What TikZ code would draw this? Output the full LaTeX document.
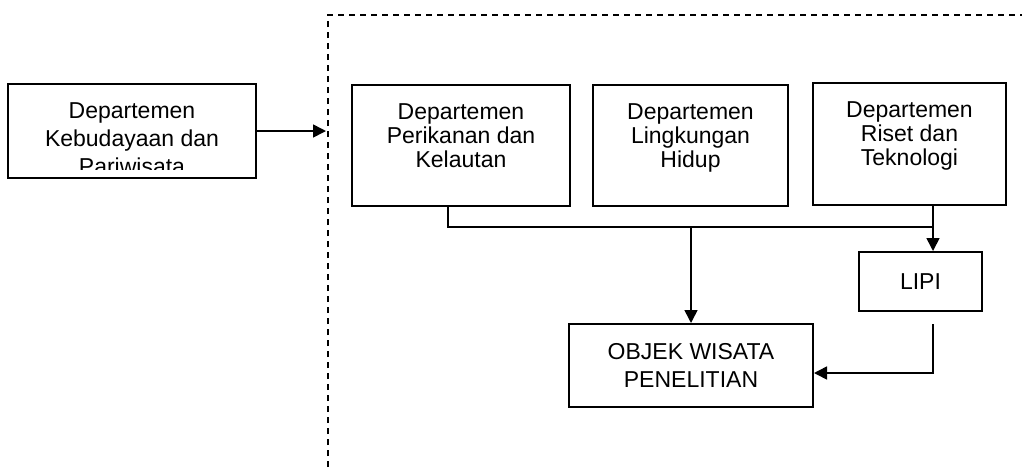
\documentclass[tikz,border=0pt]{standalone}
\usepackage{fontspec}
\setmainfont{Liberation Sans}
\usepackage{tikz}
\usetikzlibrary{arrows.meta, positioning, calc}

\begin{document}
\begin{tikzpicture}[x=0.5pt, y=-0.5pt,
    kotak/.style={draw, line width=1pt, inner sep=0pt},
    teks/.style={align=center, inner sep=0pt, font=\fontsize{11.5}{12}\selectfont},
    garis/.style={line width=0.8pt},
    panah/.style={garis, -{Triangle[length=6.5pt, width=6.5pt]}}]
  \useasboundingbox (0,0) rectangle (1022,467);
  % batas wilayah
  \coordinate (batas) at (328,15);
  \draw[line width=1pt, dash pattern=on 3pt off 2.5pt] (328,467) -- (batas) -- (1022,15);
  % kotak departemen
  \node[kotak, minimum width=124pt, minimum height=47pt] (kebudayaan) at (132,131) {};
  \node[kotak, minimum width=109pt, minimum height=60.5pt] (perikanan) at (461,145.5) {};
  \node[kotak, minimum width=97.5pt, minimum height=60.5pt] (lingkungan) at (690.5,145.5) {};
  \node[kotak, minimum width=96.5pt, minimum height=61pt] (riset) at (909.5,144) {};
  \node[kotak, teks, minimum width=61.5pt, minimum height=29.5pt] (lipi) at (920.5,281.5) {LIPI};
  \node[kotak, teks, minimum width=122pt, minimum height=41.5pt,
    font=\fontsize{11.5}{14}\selectfont] (objek) at (691,365.5) {OBJEK WISATA\\PENELITIAN};
  % isi kotak
  \begin{scope}
    \clip (kebudayaan.north west) rectangle ($(kebudayaan.south east)+(0,-10)$);
    \node[teks, anchor=north, font=\fontsize{11.5}{14}\selectfont] (kebudayaan-teks)
      at ([yshift=-9.5pt]kebudayaan.north) {Departemen\\Kebudayaan dan\\Pariwisata};
  \end{scope}
  \node[teks, anchor=north] (perikanan-teks) at ([yshift=-9.5pt]perikanan.north)
    {Departemen\\Perikanan dan\\Kelautan};
  \node[teks, anchor=north] (lingkungan-teks) at ([yshift=-9.5pt]lingkungan.north)
    {Departemen\\Lingkungan\\Hidup};
  \node[teks, anchor=north] (riset-teks) at ([yshift=-9.5pt]riset.north)
    {Departemen\\Riset dan\\Teknologi};
  % hubungan
  \draw[panah] (kebudayaan.east) -- ($(batas |- kebudayaan.east)+(-2,0)$);
  \coordinate (cabang-kiri) at (448,227);
  \coordinate (cabang-kanan) at (933,227);
  \draw[garis] (cabang-kiri |- perikanan.south) -- (cabang-kiri) -- (cabang-kanan);
  \draw[panah] (cabang-kanan |- riset.south) -- (cabang-kanan |- lipi.north);
  \draw[panah] (objek.north |- cabang-kiri) -- (objek.north);
  \draw[panah] ($(cabang-kanan |- lipi.south)+(0,12)$) |- ($(objek.east)+(0,7.5)$);
\end{tikzpicture}
\end{document}
